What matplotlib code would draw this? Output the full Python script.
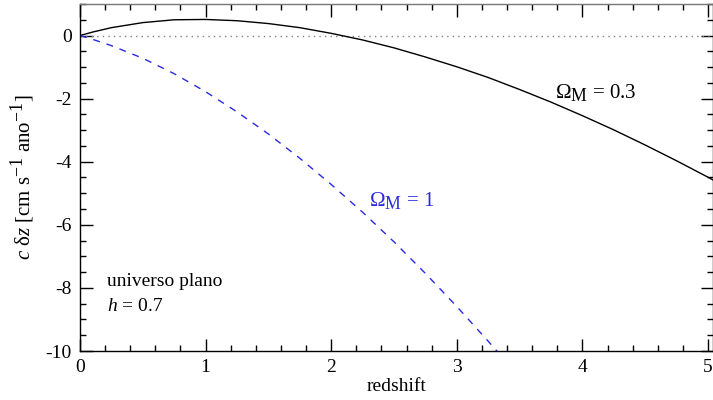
import matplotlib
matplotlib.use('Agg')
import matplotlib.pyplot as plt
from matplotlib.ticker import MultipleLocator

# bigger sub/superscripts, like the original figure
try:
    import matplotlib._mathtext as _mt
    _mt.SHRINK_FACTOR = 0.85
except Exception:
    pass

plt.rcParams['font.family'] = ['Liberation Serif', 'DejaVu Serif']
plt.rcParams['mathtext.fontset'] = 'custom'
plt.rcParams['mathtext.rm'] = 'Liberation Serif'
plt.rcParams['mathtext.it'] = 'Liberation Serif:italic'

# redshift drift values (cm/s per year)
z_03 = [0, 0.1, 0.25, 0.5, 0.75, 1.0, 1.25, 1.5, 1.75, 2.0, 2.25, 2.5, 2.75,
        3.0, 3.25, 3.5, 3.75, 4.0, 4.25, 4.5, 4.75, 5.0, 5.05]
dz_03 = [0, 0.11, 0.25, 0.41, 0.50, 0.51, 0.47, 0.38, 0.25, 0.07, -0.14, -0.39,
         -0.68, -0.99, -1.33, -1.71, -2.11, -2.54, -2.99, -3.47, -3.97, -4.49, -4.60]

z_1 = [0, 0.1, 0.25, 0.5, 0.75, 1.0, 1.25, 1.5, 1.75, 2.0, 2.25, 2.5, 2.75,
       3.0, 3.25, 3.35]
dz_1 = [0, -0.12, -0.32, -0.72, -1.21, -1.78, -2.42, -3.12, -3.89, -4.72, -5.60,
        -6.54, -7.54, -8.59, -9.69, -10.14]

fig = plt.figure(figsize=(7.13, 4.0), dpi=100)
ax = fig.add_axes([80 / 713, 49 / 400, 633 / 713, 347 / 400])

ax.axhline(0, color='gray', linestyle=(0, (1, 3)), linewidth=1)
ax.plot(z_03, dz_03, color='black', linewidth=1)
ax.plot(z_1, dz_1, color='#2a2ae0', linewidth=1, linestyle=(0, (5, 5)))

ax.set_xlim(0, 5.04)
ax.set_ylim(-10, 1.0)
ax.xaxis.set_major_locator(MultipleLocator(1))
ax.xaxis.set_minor_locator(MultipleLocator(0.2))
ax.yaxis.set_major_locator(MultipleLocator(2))
ax.yaxis.set_minor_locator(MultipleLocator(0.5))
ax.tick_params(which='both', direction='in', top=True, right=True, labelsize=14,
               width=1)
ax.tick_params(which='major', length=9, pad=6)
ax.tick_params(which='minor', length=4.5)
ax.yaxis.set_major_formatter(plt.FuncFormatter(lambda v, p: '%d' % v))
for s in ax.spines.values():
    s.set_linewidth(1)
ax.spines['top'].set_color('#777777')

ax.set_xlabel('redshift', fontsize=14, labelpad=1)
ax.set_ylabel(r'$c$ δ$z$ [cm s$^{-1}$ ano$^{-1}$]', fontsize=15, labelpad=6)

ax.text(3.78, -1.99, r'Ω$_\mathrm{M}$ = 0.3', fontsize=15, color='black')
ax.text(2.30, -5.41, r'Ω$_\mathrm{M}$ = 1', fontsize=15, color='#2a2ae0')
ax.text(0.215, -7.94, 'universo plano', fontsize=14)
ax.text(0.215, -8.73, r'$h$ = 0.7', fontsize=14)

fig.savefig('out.png', dpi=100)
